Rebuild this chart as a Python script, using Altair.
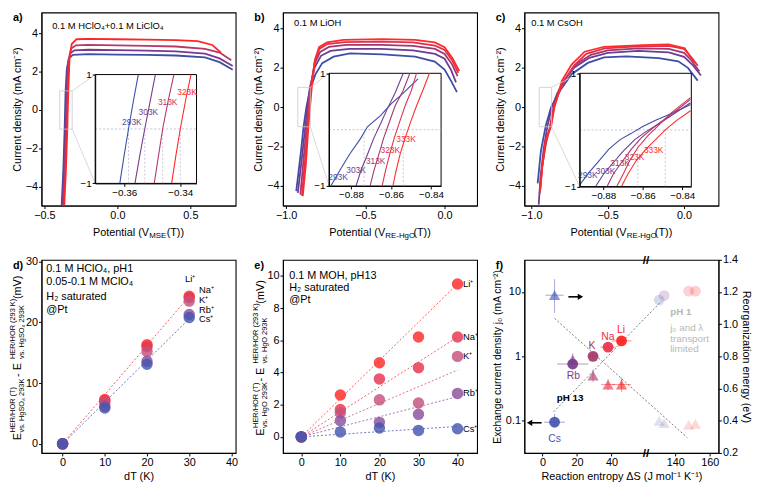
import altair as alt
import pandas as pd

FONT = "Liberation Sans"
W = 197
H = 196

# ================= panel a : 0.1 M HClO4 + 0.1 M LiClO4 =================
a_temps = ["293K", "303K", "313K", "323K"]
a_colors = ["#3d4ea6", "#7a3a8c", "#b8386a", "#ff2626"]
a293_x = [-0.382, -0.370, -0.3616, -0.3585, -0.355, -0.347, -0.333, -0.305, -0.2, 0.0, 0.2, 0.4, 0.6, 0.7, 0.79]
a293_y = [-5, -3, -1, 0, 1, 2.1, 2.7, 2.88, 2.92, 2.9, 2.88, 2.85, 2.75, 2.5, 2.1]
a303_x = [-0.377, -0.365, -0.3562, -0.3527, -0.349, -0.341, -0.325, -0.295, -0.2, 0.0, 0.2, 0.4, 0.6, 0.7, 0.79]
a303_y = [-5, -3, -1, 0, 1, 2.3, 2.95, 3.12, 3.15, 3.13, 3.1, 3.07, 2.95, 2.7, 2.3]
a313_x = [-0.370, -0.358, -0.3493, -0.3463, -0.3423, -0.334, -0.318, -0.285, -0.2, 0.0, 0.2, 0.4, 0.6, 0.7, 0.78]
a313_y = [-5, -3, -1, 0, 1, 2.5, 3.2, 3.38, 3.4, 3.38, 3.35, 3.32, 3.2, 3.0, 2.6]
a323_x = [-0.364, -0.352, -0.3431, -0.34, -0.3362, -0.328, -0.313, -0.28, -0.2, 0.0, 0.2, 0.4, 0.55, 0.65, 0.71]
a323_y = [-5, -3, -1, 0, 1, 2.7, 3.45, 3.7, 3.72, 3.7, 3.68, 3.65, 3.6, 3.4, 3.0]
# inset a
ia_y = [-1, -0.5, 0, 0.5, 1]
ia293_x = [-0.3616, -0.3601, -0.3585, -0.3568, -0.3550]
ia303_x = [-0.3562, -0.3545, -0.3527, -0.3508, -0.3489]
ia313_x = [-0.3493, -0.3478, -0.3463, -0.3444, -0.3423]
ia323_x = [-0.3431, -0.3416, -0.3400, -0.3382, -0.3362]
ia_lab_x = [-0.3573, -0.3514, -0.3445, -0.3376]
ia_lab_y = [0.13, 0.31, 0.50, 0.67]
ia_zero_x = [-0.3585, -0.3527, -0.3463, -0.3400]

# ================= panel b : 0.1 M LiOH =================
t5 = ["293K", "303K", "313K", "323K", "333K"]
t5_colors = ["#3d4ea6", "#6e3d91", "#a3386f", "#e0304f", "#ff2b2b"]
b293_x = [-0.936, -0.906, -0.89, -0.872, -0.85, -0.815, -0.772, -0.70, -0.597, -0.392, -0.186, -0.062, 0.0, 0.041, 0.078]
b293_y = [-4.27, -2.24, -1.0, 0.0, 0.85, 1.66, 2.23, 2.56, 2.72, 2.67, 2.56, 2.31, 1.9, 1.33, 0.76]
b303_x = [-0.926, -0.898, -0.879, -0.866, -0.85, -0.82, -0.78, -0.72, -0.6, -0.4, -0.2, -0.06, 0.0, 0.04, 0.072]
b303_y = [-4.35, -2.4, -1.0, 0.0, 1.0, 2.0, 2.6, 2.85, 2.95, 2.95, 2.88, 2.7, 2.45, 1.9, 1.25]
b313_x = [-0.91, -0.888, -0.8705, -0.86, -0.846, -0.82, -0.785, -0.73, -0.62, -0.4, -0.2, -0.06, 0.0, 0.045, 0.082]
b313_y = [-4.44, -2.5, -1.0, 0.0, 1.0, 2.2, 2.8, 3.05, 3.15, 3.15, 3.1, 2.95, 2.7, 2.2, 1.57]
b323_x = [-0.90, -0.88, -0.8645, -0.855, -0.843, -0.82, -0.79, -0.74, -0.63, -0.4, -0.2, -0.06, 0.0, 0.05, 0.086]
b323_y = [-4.5, -2.6, -1.0, 0.0, 1.0, 2.3, 2.95, 3.2, 3.3, 3.32, 3.28, 3.12, 2.9, 2.35, 1.74]
b333_x = [-0.895, -0.875, -0.859, -0.849, -0.838, -0.818, -0.792, -0.741, -0.638, -0.392, -0.186, -0.062, 0.0, 0.051, 0.093]
b333_y = [-4.52, -2.89, -1.0, 0.0, 1.0, 2.4, 3.04, 3.28, 3.41, 3.45, 3.41, 3.28, 3.04, 2.47, 1.82]
# inset b
ib293_x = [-0.8901, -0.8857, -0.8808, -0.8751, -0.8718, -0.8653, -0.8596, -0.8547, -0.8498, -0.8465]
ib293_y = [-1.0, -0.73, -0.44, -0.15, 0.05, 0.25, 0.47, 0.62, 0.79, 0.9]
ib303_x = [-0.8775, -0.8751, -0.8718, -0.8686, -0.8653, -0.862, -0.858, -0.8539]
ib303_y = [-1.0, -0.73, -0.44, -0.15, 0.10, 0.36, 0.65, 1.0]
ib313_x = [-0.8705, -0.8686, -0.8661, -0.8637, -0.8612, -0.858, -0.8539, -0.8506]
ib313_y = [-1.0, -0.73, -0.44, -0.15, 0.10, 0.42, 0.70, 1.0]
ib323_x = [-0.8645, -0.8628, -0.8607, -0.8584, -0.8558, -0.853, -0.8498, -0.8473]
ib323_y = [-1.0, -0.73, -0.44, -0.15, 0.13, 0.42, 0.70, 1.0]
ib333_x = [-0.8591, -0.8575, -0.8555, -0.853, -0.8503, -0.8473, -0.8441, -0.8408]
ib333_y = [-1.0, -0.73, -0.44, -0.15, 0.13, 0.42, 0.70, 1.0]
ib_lab_x = [-0.8865, -0.8775, -0.8677, -0.8604, -0.8525]
ib_lab_y = [-0.84, -0.71, -0.55, -0.37, -0.17]
ib_zero_x = [-0.8735, -0.8539]

# ================= panel c : 0.1 M CsOH =================
c293_x = [-0.958, -0.937, -0.905, -0.87, -0.84, -0.81, -0.736, -0.63, -0.524, -0.377, -0.165, -0.038, 0.025, 0.089]
c293_y = [-3.87, -2.24, -0.94, 0.0, 0.4, 0.85, 1.67, 2.24, 2.52, 2.57, 2.48, 2.32, 1.99, 1.34]
c303_x = [-0.951, -0.94, -0.92, -0.895, -0.865, -0.83, -0.79, -0.72, -0.62, -0.5, -0.3, -0.1, 0.0, 0.06, 0.11]
c303_y = [-4.95, -3.6, -2.2, -1.0, 0.0, 0.7, 1.3, 2.0, 2.5, 2.75, 2.85, 2.78, 2.55, 2.1, 1.6]
c313_x = [-0.945, -0.93, -0.905, -0.878, -0.853, -0.82, -0.78, -0.71, -0.61, -0.5, -0.3, -0.1, 0.0, 0.05, 0.1]
c313_y = [-4.4, -3.1, -1.9, -1.0, 0.0, 0.75, 1.4, 2.15, 2.65, 2.88, 2.98, 2.95, 2.75, 2.35, 1.8]
c323_x = [-0.943, -0.928, -0.903, -0.873, -0.851, -0.815, -0.775, -0.72, -0.64, -0.52, -0.3, -0.1, 0.0, 0.05, 0.09]
c323_y = [-4.3, -3.0, -1.7, -1.0, 0.0, 0.8, 1.45, 2.1, 2.7, 2.98, 3.08, 3.1, 2.95, 2.5, 2.1]
c333_x = [-0.941, -0.926, -0.905, -0.8707, -0.848, -0.799, -0.736, -0.651, -0.524, -0.271, -0.101, 0.004, 0.067]
c333_y = [-4.2, -2.9, -1.59, -1.0, 0.0, 1.34, 2.16, 2.81, 3.06, 3.14, 3.18, 2.98, 2.25]
# inset c
ic293_x = [-0.892, -0.887, -0.8821, -0.8772, -0.8715, -0.8658, -0.86, -0.8535, -0.8469, -0.8404, -0.8358]
ic293_y = [-0.97, -0.74, -0.54, -0.34, -0.17, -0.06, 0.06, 0.17, 0.27, 0.37, 0.45]
ic303_x = [-0.8838, -0.8797, -0.8748, -0.8698, -0.8641, -0.8584, -0.8518, -0.8453, -0.8358]
ic303_y = [-0.99, -0.77, -0.57, -0.37, -0.17, -0.03, 0.11, 0.26, 0.48]
ic313_x = [-0.878, -0.8748, -0.8707, -0.8658, -0.8608, -0.8551, -0.8486, -0.842, -0.8358]
ic313_y = [-0.99, -0.77, -0.57, -0.34, -0.14, 0.03, 0.2, 0.37, 0.54]
ic323_x = [-0.8731, -0.8698, -0.8666, -0.8625, -0.8576, -0.8518, -0.8453, -0.8358]
ic323_y = [-0.99, -0.77, -0.54, -0.31, -0.11, 0.09, 0.31, 0.57]
ic333_x = [-0.8707, -0.8674, -0.8633, -0.8584, -0.8535, -0.8486, -0.8428, -0.8358]
ic333_y = [-0.99, -0.77, -0.54, -0.34, -0.17, 0.0, 0.17, 0.34]
ic_lab_x = [-0.8879, -0.8789, -0.8715, -0.8642, -0.8545]
ic_lab_y = [-0.8, -0.72, -0.59, -0.48, -0.36]
ic_zero_x = [-0.8625, -0.8486]

# ================= panel d : pH 1 =================
ions = ["Li", "Na", "K", "Rb", "Cs"]
ion_colors = ["#ff2a2a", "#e8344e", "#c4517c", "#8b4f9c", "#4556b0"]
d_dT = [0, 10, 20, 30]
d_Li = [0, 7.3, 16.3, 24.3]
d_Na = [0, 7.1, 16.0, 24.1]
d_K = [0, 6.8, 15.2, 23.5]
d_Rb = [0, 6.2, 13.6, 21.3]
d_Cs = [0, 5.9, 13.1, 20.8]
d_fit_ions = ["Li", "Cs"]
d_fit_end_x = [30, 30]
d_fit_end_y = [24.3, 20.6]
d_lab_x = [29.0, 32.3, 32.3, 32.3, 32.3]
d_lab_y = [27.1, 25.3, 23.7, 22.1, 20.5]
d_notes = ["0.1 M HClO₄, pH1", "0.05-0.1 M MClO₄", "H₂ saturated", "@Pt"]
d_notes_y = [28.7, 26.6, 24.2, 22.0]

# ================= panel e : pH 13 =================
e_dT = [0, 10, 20, 30, 40]
e_Li = [0, 2.6, 4.6, 6.2, 9.5]
e_Na = [0, 1.7, 3.6, 4.3, 6.2]
e_K = [0, 1.5, 2.3, 2.1, 5.0]
e_Rb = [0, 1.0, 0.9, 1.4, 2.7]
e_Cs = [0, 0.3, 0.55, 0.4, 0.5]
e_fit_end_x = [40, 40, 40, 40, 40]
e_fit_end_y = [9.5, 6.2, 4.15, 2.5, 0.65]
e_lab_x = [41.4, 41.4, 41.4, 41.4, 41.4]
e_lab_y = [9.5, 6.2, 5.0, 2.7, 0.5]
e_notes = ["0.1 M MOH, pH13", "H₂ saturated", "@Pt"]
e_notes_y = [10.0, 9.26, 8.5]

# ================= panel f =================
f_ions = ["Cs", "Rb", "K", "Na", "Li"]
f_colors = ["#4556b0", "#7a3c8c", "#a3386a", "#e8304a", "#ff2020"]
f_dS = [7, 17.5, 29.3, 38, 45.8]
f_dS_err = [6, 9, 2.5, 4.5, 5.7]
f_j0 = [0.095, 0.76, 1.0, 1.39, 1.74]
f_j0_lo = [0.078, 0.68, 0.92, 1.28, 1.6]
f_j0_hi = [0.127, 0.85, 1.08, 1.5, 1.88]
f_lam = [1.18, 0.78, 0.68, 0.625, 0.625]
f_lam_lo = [1.07, 0.75, 0.64, 0.59, 0.58]
f_lam_hi = [1.28, 0.82, 0.72, 0.66, 0.67]
f_lam_dS_err = [5.3, 0, 0, 4, 5.5]
f1_ions = ["Cs", "Rb", "Na", "Li"]
f1_dS = [130.6, 133.5, 147.7, 151.6]
f1_j0 = [7.5, 8.8, 10.3, 10.3]
f1_lam = [0.40, 0.385, 0.375, 0.38]
f_jfit_dS = [6.5, 132]
f_jfit_j = [0.138, 7.2]
f_lfit_dS = [7, 147]
f_lfit_lam = [1.036, 0.294]
f_lab_dS = [7, 17.9, 28.7, 37.9, 45.5]
f_lab_j = [0.052, 0.495, 1.46, 2.0, 2.59]
f_gray_text = ["j₀ and λ", "transport", "limited"]
f_gray_j = [2.73, 1.87, 1.28]

ONE = pd.DataFrame({"k": [0]})


def tw(s, fs):
    w = 0.0
    for ch in s:
        if ch in "il.,:;!|'":
            w += 0.23
        elif ch in "jft()[]-r/ ":
            w += 0.31
        elif ch in "mwMW":
            w += 0.85
        elif ch.isupper():
            w += 0.68
        elif ch.isdigit():
            w += 0.556
        else:
            w += 0.53
    return w * fs


def txt(text, x, y, size=11, color="black", align="left", baseline="middle",
        dx=0, dy=0, angle=0, weight="normal"):
    kw = dict(text=text, fontSize=size, color=color, align=align, baseline=baseline,
              dx=dx, dy=dy, font=FONT, fontWeight=weight)
    if angle:
        kw["angle"] = angle
    return alt.Chart(ONE).mark_text(**kw).encode(x=alt.value(x), y=alt.value(y))


def xtitle_sub(ypx, parts):
    total = sum(tw(t, s) for t, s, _ in parts)
    x = W / 2 - total / 2
    out = []
    for t, s, dy in parts:
        out.append(txt(t, x, ypx, size=s, dy=dy))
        x += tw(t, s)
    return out


def ytitle_rot(xpx, groups, fs=11, fss=7.5):
    items = []
    pos = 0.0
    for g in groups:
        if isinstance(g, str):
            items.append((g, fs, pos, 0))
            pos += tw(g, fs)
        else:
            sup, sub = g
            items.append((sup, fss, pos + 0.5, -5))
            items.append((sub, fss, pos + 0.5, 4))
            pos += max(tw(sup, fss), tw(sub, fss)) + 1.5
    start = -pos / 2
    return [txt(t, xpx, H / 2, size=s, dx=start + dx, dy=dy, angle=270) for t, s, dx, dy in items]


def curves_df(xs_list, ys_list, names):
    frames = []
    for xs, ys, n in zip(xs_list, ys_list, names):
        frames.append(pd.DataFrame({"x": xs, "y": ys, "s": n, "i": list(range(len(xs)))}))
    return pd.concat(frames, ignore_index=True)


def letter_layer(letter, xs, ys, xv, yv, xf="x", yf="y"):
    gdf = pd.DataFrame({xf: [xv], yf: [yv]})
    return alt.Chart(gdf).mark_text(text=letter, align="left", baseline="top", dx=-29, dy=0,
                                    fontWeight="bold", fontSize=11, color="black").encode(
        x=alt.X(f"{xf}:Q", scale=xs, axis=None), y=alt.Y(f"{yf}:Q", scale=ys, axis=None))


def cv_panel(letter, refW, xdom, ydom, xticks, names, colors, mxs, mys, box, conn,
             note, note_xy, ixdom, ixr_ref, iyr_ref, ixticks, ixs_list, iys_list,
             labs_x, labs_y, zc, xparts):
    sx = W / refW
    sy = H / 200.0
    ixr = [ixr_ref[0] * sx, ixr_ref[1] * sx]
    iyr = [iyr_ref[0] * sy, iyr_ref[1] * sy]
    xs = alt.Scale(domain=xdom, nice=False, zero=False)
    ys = alt.Scale(domain=ydom, nice=False, zero=False)
    cs = alt.Scale(domain=names, range=colors)
    col = alt.Color("s:N", scale=cs, legend=None)
    L = []
    mdf = curves_df(mxs, mys, names)
    L.append(alt.Chart(mdf).mark_line(strokeWidth=1.8, clip=True).encode(
        x=alt.X("x:Q", scale=xs, axis=alt.Axis(values=xticks, format=".1f", title=None)),
        y=alt.Y("y:Q", scale=ys, axis=alt.Axis(values=[-4, -2, 0, 2, 4], format="d",
                                               title="Current density (mA cm⁻²)")),
        color=col, order="i:Q"))
    bdf = pd.DataFrame({"x": [box[0]], "x2": [box[1]], "y": [box[2]], "y2": [box[3]]})
    L.append(alt.Chart(bdf).mark_rect(fillOpacity=0, stroke="#c8c8c8", strokeWidth=0.8).encode(
        x=alt.X("x:Q", scale=xs, axis=None), x2="x2:Q",
        y=alt.Y("y:Q", scale=ys, axis=None), y2="y2:Q"))
    cdf = pd.DataFrame({"x": conn[0], "y": conn[1], "x2": conn[2], "y2": conn[3]})
    L.append(alt.Chart(cdf).mark_rule(color="#cfcfcf", strokeWidth=0.8).encode(
        x=alt.X("x:Q", scale=xs, axis=None), x2="x2:Q",
        y=alt.Y("y:Q", scale=ys, axis=None), y2="y2:Q"))
    ndf = pd.DataFrame({"x": [note_xy[0]], "y": [note_xy[1]], "t": [note]})
    L.append(alt.Chart(ndf).mark_text(align="left", fontSize=9.5, color="black").encode(
        x=alt.X("x:Q", scale=xs, axis=None), y=alt.Y("y:Q", scale=ys, axis=None), text="t:N"))
    L.append(letter_layer(letter, xs, ys, xdom[0], ydom[1]))
    # ---- inset ----
    ixsc = alt.Scale(domain=ixdom, range=ixr, nice=False, zero=False)
    iysc = alt.Scale(domain=[-1, 1], range=[iyr[1], iyr[0]], nice=False, zero=False)
    fdf = pd.DataFrame({"x": [ixdom[0]], "x2": [ixdom[1]], "y": [-1], "y2": [1]})
    L.append(alt.Chart(fdf).mark_rect(fill="white", stroke="black", strokeWidth=1).encode(
        x=alt.X("x:Q", scale=ixsc, axis=alt.Axis(orient="bottom", offset=iyr[1] - H, values=ixticks,
                                                 format=".2f", title=None, labelFontSize=10,
                                                 tickSize=3, zindex=3)),
        x2="x2:Q",
        y=alt.Y("y:Q", scale=iysc, axis=alt.Axis(orient="left", offset=-ixr[0], values=[-1, 0, 1],
                                                 format="d", title=None, labelFontSize=10,
                                                 tickSize=3, zindex=3)),
        y2="y2:Q"))
    zdf = pd.DataFrame({"x": [ixdom[0]], "x2": [ixdom[1]], "y": [0]})
    L.append(alt.Chart(zdf).mark_rule(color="#aab4d0", strokeDash=[2, 2], strokeWidth=0.8).encode(
        x=alt.X("x:Q", scale=ixsc, axis=None), x2="x2:Q", y=alt.Y("y:Q", scale=iysc, axis=None)))
    vdf = pd.DataFrame({"x": zc, "y": [-1] * len(zc), "y2": [0] * len(zc)})
    L.append(alt.Chart(vdf).mark_rule(color="#c4b4d4", strokeDash=[2, 2], strokeWidth=0.8).encode(
        x=alt.X("x:Q", scale=ixsc, axis=None), y=alt.Y("y:Q", scale=iysc, axis=None), y2="y2:Q"))
    idf = curves_df(ixs_list, iys_list, names)
    L.append(alt.Chart(idf).mark_line(strokeWidth=1.1).encode(
        x=alt.X("x:Q", scale=ixsc, axis=None), y=alt.Y("y:Q", scale=iysc, axis=None),
        color=col, order="i:Q"))
    tdf = pd.DataFrame({"x": labs_x, "y": labs_y, "s": names})
    L.append(alt.Chart(tdf).mark_text(fontSize=8.5).encode(
        x=alt.X("x:Q", scale=ixsc, axis=None), y=alt.Y("y:Q", scale=iysc, axis=None),
        text="s:N", color=col))
    L += xtitle_sub(H + 28, xparts)
    return alt.layer(*L).resolve_scale(x="independent", y="independent").properties(width=W, height=H)


def dt_panel(letter, xdom, ydom, xticks, yticks, dT, vals, fit_ions, fit_x, fit_y,
             lab_x, lab_y, notes, notes_x, notes_y, ygroups, ytx):
    xs = alt.Scale(domain=xdom, nice=False, zero=False)
    ys = alt.Scale(domain=ydom, nice=False, zero=False)
    cs = alt.Scale(domain=ions, range=ion_colors)
    col = alt.Color("ion:N", scale=cs, legend=None)
    rows = []
    for ion, v in zip(ions, vals):
        for t, val in zip(dT, v):
            rows.append({"dT": t, "v": val, "ion": ion})
    pdf = pd.DataFrame(rows)
    fdf = pd.DataFrame({"x": [0] * len(fit_ions), "y": [0] * len(fit_ions),
                        "x2": fit_x, "y2": fit_y, "ion": fit_ions})
    L = []
    L.append(alt.Chart(fdf).mark_rule(strokeDash=[2, 2], strokeWidth=1, opacity=0.8).encode(
        x=alt.X("x:Q", scale=xs, axis=alt.Axis(values=xticks, format="d", title="dT (K)")),
        x2="x2:Q",
        y=alt.Y("y:Q", scale=ys, axis=alt.Axis(values=yticks, format="d", title=None)),
        y2="y2:Q", color=col))
    L.append(alt.Chart(pdf).mark_circle(size=135, opacity=0.82).encode(
        x=alt.X("dT:Q", scale=xs, axis=None), y=alt.Y("v:Q", scale=ys, axis=None), color=col))
    ldf = pd.DataFrame({"x": lab_x, "y": lab_y, "t": [i + "⁺" for i in ions]})
    L.append(alt.Chart(ldf).mark_text(align="left", fontSize=9.5, color="black").encode(
        x=alt.X("x:Q", scale=xs, axis=None), y=alt.Y("y:Q", scale=ys, axis=None), text="t:N"))
    ndf = pd.DataFrame({"x": [notes_x] * len(notes), "y": notes_y, "t": notes})
    L.append(alt.Chart(ndf).mark_text(align="left", fontSize=11, color="black").encode(
        x=alt.X("x:Q", scale=xs, axis=None), y=alt.Y("y:Q", scale=ys, axis=None), text="t:N"))
    L.append(letter_layer(letter, xs, ys, xdom[0], ydom[1]))
    L += ytitle_rot(ytx, ygroups)
    return alt.layer(*L).resolve_scale(x="independent", y="independent").properties(width=W, height=H)


def f_panel():
    U = "datum.dS > 100 ? datum.dS - 63 : datum.dS"
    xs = alt.Scale(domain=[-10.5, 102], nice=False, zero=False)
    yl = alt.Scale(type="log", domain=[0.0316, 31.6], nice=False)
    yr = alt.Scale(domain=[0.2, 1.4], nice=False, zero=False)
    cs = alt.Scale(domain=f_ions, range=f_colors)
    col = alt.Color("ion:N", scale=cs, legend=None)
    XN = alt.X("u:Q", scale=xs, axis=None)
    YL = alt.Y("j:Q", scale=yl, axis=None)
    YR = alt.Y("lam:Q", scale=yr, axis=None)

    cdf = pd.DataFrame({"ion": f_ions, "dS": f_dS, "e": f_dS_err, "j": f_j0,
                        "jlo": f_j0_lo, "jhi": f_j0_hi})
    tdf = pd.DataFrame({"ion": f_ions, "dS": f_dS, "e": f_lam_dS_err, "lam": f_lam,
                        "llo": f_lam_lo, "lhi": f_lam_hi})
    c1 = pd.DataFrame({"ion": f1_ions, "dS": f1_dS, "j": f1_j0})
    t1 = pd.DataFrame({"ion": f1_ions, "dS": f1_dS, "lam": f1_lam})

    L = []
    # right-axis (reorganization energy) layers first, so circles sit on top
    L.append(alt.Chart(pd.DataFrame({"dS": f_lfit_dS, "lam": f_lfit_lam})).transform_calculate(u=U)
             .mark_line(strokeDash=[2, 2], color="#777777", strokeWidth=1).encode(
        x=XN,
        y=alt.Y("lam:Q", scale=yr, axis=alt.Axis(orient="right", values=[0.2, 0.4, 0.6, 0.8, 1.0, 1.2, 1.4],
                format=".1f", title="Reorganization energy (eV)"))))
    L.append(alt.Chart(tdf).transform_calculate(lo="datum.dS - datum.e", hi="datum.dS + datum.e")
             .mark_rule(strokeWidth=1, opacity=0.5).encode(
        x=alt.X("lo:Q", scale=xs, axis=None), x2="hi:Q", y=YR, color=col))
    L.append(alt.Chart(tdf).transform_calculate(u=U).mark_rule(strokeWidth=1, opacity=0.5).encode(
        x=XN, y=alt.Y("llo:Q", scale=yr, axis=None), y2="lhi:Q", color=col))
    L.append(alt.Chart(t1).transform_calculate(u=U).mark_point(shape="triangle-up", filled=True,
                                                               size=130, opacity=0.18).encode(
        x=XN, y=YR, color=col))
    L.append(alt.Chart(tdf).transform_calculate(u=U).mark_point(shape="triangle-up", filled=True,
                                                                size=130, opacity=0.62).encode(
        x=XN, y=YR, color=col))
    rdf = pd.DataFrame({"dS": [15], "dS2": [22], "lam": [1.17]})
    L.append(alt.Chart(rdf).mark_rule(color="black", strokeWidth=1.6).encode(
        x=alt.X("dS:Q", scale=xs, axis=None), x2="dS2:Q", y=YR))
    L.append(alt.Chart(rdf).mark_point(shape="triangle-right", filled=True, size=40, color="black",
                                       opacity=1).encode(
        x=alt.X("dS2:Q", scale=xs, axis=None), y=YR))
    # left-axis (exchange current density) layers
    L.append(alt.Chart(pd.DataFrame({"dS": f_jfit_dS, "j": f_jfit_j})).transform_calculate(u=U)
             .mark_line(strokeDash=[2, 2], color="#777777", strokeWidth=1).encode(
        x=alt.X("u:Q", scale=xs, axis=alt.Axis(values=[0, 20, 40, 77, 97],
                labelExpr="datum.value > 60 ? datum.value + 63 : datum.value",
                title="Reaction entropy ΔS (J mol⁻¹ K⁻¹)")),
        y=alt.Y("j:Q", scale=yl, axis=alt.Axis(orient="left", values=[0.1, 1, 10], format="~g",
                title="Exchange current density j₀ (mA cm⁻²)", titleFontSize=10.5))))
    L.append(alt.Chart(cdf).transform_calculate(lo="datum.dS - datum.e", hi="datum.dS + datum.e")
             .mark_rule(strokeWidth=1, opacity=0.55).encode(
        x=alt.X("lo:Q", scale=xs, axis=None), x2="hi:Q", y=YL, color=col))
    L.append(alt.Chart(cdf).transform_calculate(u=U).mark_rule(strokeWidth=1, opacity=0.55).encode(
        x=XN, y=alt.Y("jlo:Q", scale=yl, axis=None), y2="jhi:Q", color=col))
    L.append(alt.Chart(c1).transform_calculate(u=U).mark_circle(size=120, opacity=0.22).encode(
        x=XN, y=YL, color=col))
    L.append(alt.Chart(cdf).transform_calculate(u=U).mark_circle(size=120, opacity=0.92).encode(
        x=XN, y=YL, color=col))
    ldf = pd.DataFrame({"ion": f_ions, "dS": f_lab_dS, "j": f_lab_j})
    L.append(alt.Chart(ldf).transform_calculate(u=U).mark_text(fontSize=10.5).encode(
        x=XN, y=YL, text="ion:N", color=col))
    adf = pd.DataFrame({"dS": [-0.5], "dS2": [-7.5], "j": [0.093]})
    L.append(alt.Chart(adf).mark_rule(color="black", strokeWidth=1.6).encode(
        x=alt.X("dS:Q", scale=xs, axis=None), x2="dS2:Q", y=YL))
    L.append(alt.Chart(adf).mark_point(shape="triangle-left", filled=True, size=40, color="black",
                                       opacity=1).encode(
        x=alt.X("dS2:Q", scale=xs, axis=None), y=YL))
    L.append(alt.Chart(pd.DataFrame({"dS": [16], "j": [0.226], "t": ["pH 13"]})).transform_calculate(u=U)
             .mark_text(fontSize=10, fontWeight="bold", color="black").encode(x=XN, y=YL, text="t:N"))
    L.append(alt.Chart(pd.DataFrame({"dS": [137], "j": [4.8], "t": ["pH 1"]})).transform_calculate(u=U)
             .mark_text(align="left", fontSize=10, fontWeight="bold", color="#b8b8b8").encode(
        x=XN, y=YL, text="t:N"))
    gdf = pd.DataFrame({"dS": [137] * 3, "j": f_gray_j, "t": f_gray_text})
    L.append(alt.Chart(gdf).transform_calculate(u=U).mark_text(align="left", fontSize=10,
                                                               color="#b8b8b8").encode(
        x=XN, y=YL, text="t:N"))
    bdf = pd.DataFrame({"dS": [60, 60], "j": [31.6, 0.0316]})
    L.append(alt.Chart(bdf).mark_text(text="//", fontSize=12, fontWeight="bold", color="black").encode(
        x=alt.X("dS:Q", scale=xs, axis=None), y=YL))
    L.append(letter_layer("f)", xs, yl, -10.5, 31.6, "dS", "j"))
    return alt.layer(*L).resolve_scale(x="independent", y="independent").properties(width=W, height=H)


# ---------------- build panels ----------------
pa = cv_panel("a)", 200, [-0.52, 0.81], [-5, 5.1], [-0.5, 0.0, 0.5], a_temps, a_colors,
              [a293_x, a303_x, a313_x, a323_x], [a293_y, a303_y, a313_y, a323_y],
              [-0.395, -0.31, -1, 1], ([-0.31, -0.31], [1, -1], [-0.152, -0.152], [1.853, -3.84]),
              "0.1 M HClO₄+0.1 M LiClO₄", (-0.447, 4.41),
              [-0.3704, -0.3342], (55.3, 159.7), (64.3, 177), [-0.36, -0.34],
              [ia293_x, ia303_x, ia313_x, ia323_x], [ia_y] * 4, ia_lab_x, ia_lab_y, ia_zero_x,
              [("Potential (V", 11, 0), ("MSE", 8, 3), ("(T))", 11, 0)])

pb = cv_panel("b)", 198, [-1.02, 0.205], [-5, 4.8], [-1.0, -0.5, 0.0], t5, t5_colors,
              [b293_x, b303_x, b313_x, b323_x, b333_x], [b293_y, b303_y, b313_y, b323_y, b333_y],
              [-0.926, -0.847, -1, 1], ([-0.847, -0.847], [1, -1], [-0.729, -0.729], [1.713, -4.005]),
              "0.1 M LiOH", (-0.95, 4.26),
              [-0.891, -0.835], (47, 161.3), (63, 179.7), [-0.88, -0.86, -0.84],
              [ib293_x, ib303_x, ib313_x, ib323_x, ib333_x], [ib293_y, ib303_y, ib313_y, ib323_y, ib333_y],
              ib_lab_x, ib_lab_y, ib_zero_x,
              [("Potential (V", 11, 0), ("RE-HgO", 8, 3), ("(T))", 11, 0)])

pc = cv_panel("c)", 200, [-1.045, 0.225], [-5, 4.8], [-1.0, -0.5, 0.0], t5, t5_colors,
              [c293_x, c303_x, c313_x, c323_x, c333_x], [c293_y, c303_y, c313_y, c323_y, c333_y],
              [-0.948, -0.867, -1, 1], ([-0.867, -0.867], [1, -1], [-0.683, -0.683], [1.713, -4.035]),
              "0.1 M CsOH", (-1.0, 4.26),
              [-0.892, -0.8354], (57, 172), (63, 180.3), [-0.88, -0.86, -0.84],
              [ic293_x, ic303_x, ic313_x, ic323_x, ic333_x], [ic293_y, ic303_y, ic313_y, ic323_y, ic333_y],
              ic_lab_x, ic_lab_y, ic_zero_x,
              [("Potential (V", 11, 0), ("RE-HgO", 8, 3), ("(T))", 11, 0)])

pd_ = dt_panel("d)", [-5, 41], [-1.5, 30.3], [0, 10, 20, 30, 40], [0, 10, 20, 30],
               d_dT, [d_Li, d_Na, d_K, d_Rb, d_Cs], d_fit_ions, d_fit_end_x, d_fit_end_y,
               d_lab_x, d_lab_y, d_notes, -3.86, d_notes_y,
               ["E", ("HER/HOR (T)", "vs. HgSO₄ 293K"), " - E", ("HER/HOR (293 K)", "vs. HgSO₄ 293K"), " (mV)"],
               -24)

pe = dt_panel("e)", [-4.7, 45], [-1, 11], [0, 10, 20, 30, 40], [0, 2, 4, 6, 8, 10],
              e_dT, [e_Li, e_Na, e_K, e_Rb, e_Cs], ions, e_fit_end_x, e_fit_end_y,
              e_lab_x, e_lab_y, e_notes, -3.1, e_notes_y,
              ["E", ("HER/HOR (T)", "vs. HgO 293K"), " - E", ("HER/HOR (293 K)", "vs. HgO 293K"), " (mV)"],
              -22)

pf = f_panel()

chart = alt.concat(pa, pb, pc, pd_, pe, pf, columns=3, spacing={"row": 55, "column": 48},
                   bounds="flush").resolve_scale(color="independent").configure_view(
    stroke="black", strokeWidth=1.1
).configure_axis(
    labelFont=FONT, titleFont=FONT, labelFontSize=11, titleFontSize=11, titleFontWeight="normal",
    labelColor="black", titleColor="black", domainColor="black", tickColor="black",
    tickSize=3, labelPadding=1, titlePadding=3, grid=False
).configure_text(font=FONT).properties(padding=0, background="white")

chart.save("out.html", embed_options={"renderer": "svg", "actions": False})
